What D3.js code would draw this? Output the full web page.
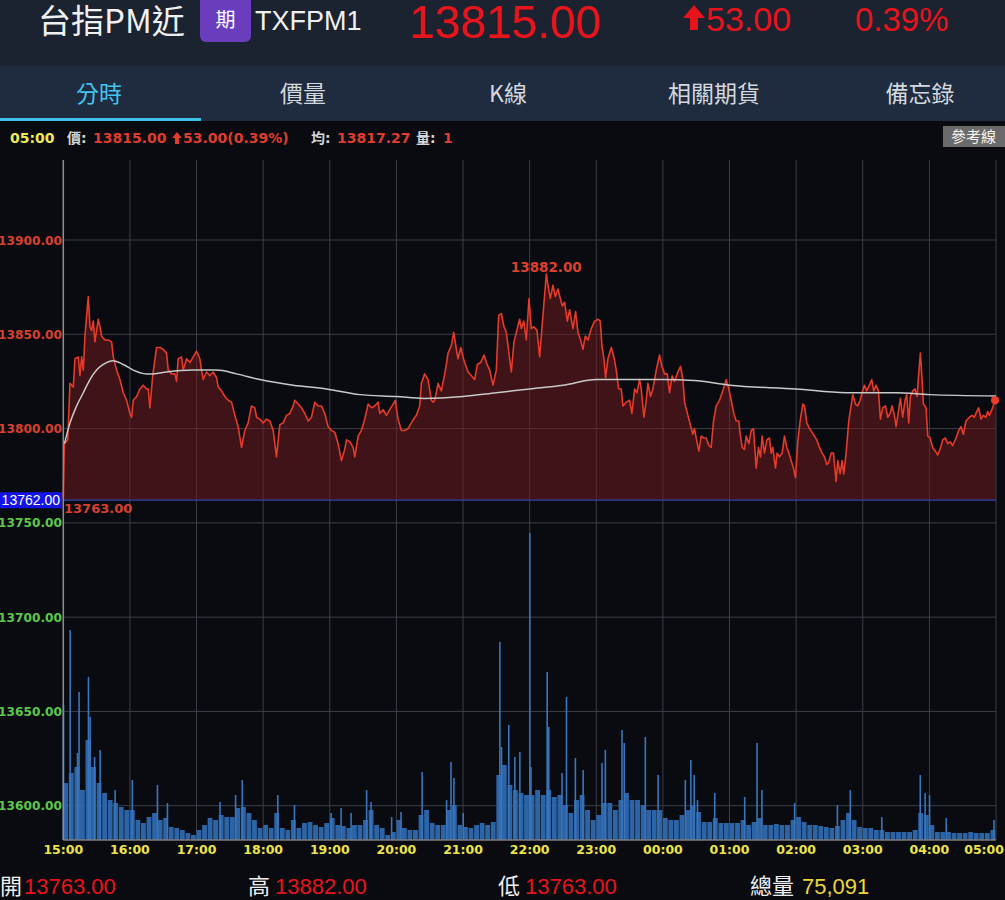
<!DOCTYPE html>
<html><head><meta charset="utf-8">
<script src="https://cdn.jsdelivr.net/npm/d3@7"></script>
<style>
html,body{margin:0;padding:0;background:#0a0b10;overflow:hidden;}
svg{display:block;}
</style></head><body>
<svg id="c" width="1005" height="900"></svg>
<script>
// ---------- data ----------
const hourLabels = ["15:00","16:00","17:00","18:00","19:00","20:00","21:00","22:00","23:00","00:00","01:00","02:00","03:00","04:00","05:00"];
const priceTicks = [13600,13650,13700,13750,13800,13850,13900];
const refPrice = 13762;
const openPrice = 13763, highPrice = 13882, lowPrice = 13763, lastPrice = 13815, avgPrice = 13817.27;
const tabs = ["分時","價量","K線","相關期貨","備忘錄"];

// [minutes after 15:00, price]
const pricePoints = [
[0,13763],[1,13792],[4,13794],[6,13824],[9,13822],[10.5,13837],[13.5,13838],[15,13828],[16.5,13838],[18,13831],
[19.5,13849],[22.5,13870],[24,13854],[25.5,13852],[27,13857],[28.5,13846],[31.5,13858],[33,13854],[34.5,13849],[37.5,13847],
[40.5,13847],[43.5,13846],[45,13838],[48,13831],[51,13826],[54,13819],[57,13815],[60,13808],[61.5,13806],[63,13815],
[66,13817],[69,13821],[72,13823],[75,13821],[76.5,13821],[78,13811],[80.5,13828],[84,13843],[87,13843],[90,13842],
[93,13840],[94.5,13831],[97.5,13829],[100.5,13829],[102,13825],[103.5,13837],[106.5,13838],[108,13831],[111,13837],[114,13835],
[117,13838],[120,13841],[123,13837],[124.5,13831],[126,13826],[129,13830],[132,13828],[135,13830],[138,13827],[139.5,13822],
[142.5,13820],[145.5,13817],[148.5,13815],[151.5,13814],[154.5,13807],[157.5,13801],[160.5,13790],[163.5,13799],[166.5,13803],[169.5,13812],
[172.5,13811],[174,13806],[177,13805],[180,13803],[183,13805],[186,13804],[189,13799],[192,13785],[195,13802],[198,13803],
[201,13807],[204,13808],[207,13812],[208.5,13815],[211.5,13813],[214.5,13811],[217.5,13808],[220.5,13804],[223.5,13806],[226.5,13814],
[229.5,13812],[232.5,13812],[235.5,13808],[238.5,13801],[241.5,13799],[244.5,13798],[247.5,13792],[250.5,13783],[253.5,13789],[255,13794],
[258,13793],[261,13790],[262.5,13785],[265.5,13796],[268.5,13799],[271.5,13805],[274.5,13813],[277.5,13811],
[280.5,13812],[283.5,13814],[285,13808],[288,13810],[291,13807],[294,13810],[297,13813],[299,13815],[301.5,13805],[304.5,13799],
[307.5,13799],[310.5,13800],[313.5,13803],[316.5,13806],[318,13807],[321,13812],[322.5,13824],[325.5,13829],[328.5,13826],[331.5,13815],
[333,13814],[334.5,13815],[337.5,13824],[340.5,13820],[343.5,13829],[345,13834],[346.5,13840],[349.5,13844],[351.6,13851],[354,13842],
[355.5,13837],[357.9,13843],[360,13838],[361.5,13835],[364.5,13830],[367.5,13828],[370.5,13826],[372.9,13834],[375.9,13835],[378.9,13839],
[381,13835],[384,13831],[387,13823],[390,13831],[392.1,13860],[394.5,13861],[396.9,13854],[399,13851],[400.5,13844],[403.5,13830],
[405.9,13846],[408,13851],[411,13858],[412.5,13853],[414.6,13857],[417,13847],[419.4,13869],[421.5,13853],[423.9,13854],[426.6,13852],
[429,13838],[430.5,13849],[432,13860],[435,13882],[436.5,13876],[438.6,13869],[441,13876],[443.1,13870],[445.5,13874],[447.6,13869],
[449.4,13865],[451.5,13867],[453.9,13857],[456,13863],[459,13853],[461.4,13862],[463.5,13851],[465.9,13847],[468,13842],[470.1,13849],
[472.5,13847],[475.5,13853],[478.5,13857],[481.5,13858],[483.6,13857],[485.1,13844],[486.9,13837],[488.4,13827],[490.5,13837],[493.5,13843],
[495.9,13838],[498,13831],[500.1,13821],[502.5,13821],[504,13812],[507,13814],[510,13815],[512.1,13808],[514.5,13821],[516.6,13819],
[519,13826],[520.5,13821],[522.9,13806],[525,13815],[526.5,13824],[528.9,13817],[531,13821],[534,13831],[537,13839],[539.1,13833],
[541.5,13829],[543.9,13829],[546,13819],[548.4,13828],[550.5,13825],[553.5,13830],[555.9,13833],[558,13826],[559.5,13814],[562.5,13807],
[567,13797],[568.5,13800],[570,13795],[572.4,13788],[574.5,13796],[576.6,13795],[579,13795],[581.4,13791],[583.5,13790],[585.6,13804],
[588,13812],[591,13815],[594,13820],[597,13826],[599.4,13821],[601.5,13815],[603.9,13808],[606,13804],[608.4,13804],[609.6,13797],
[611.4,13790],[613.5,13789],[615,13796],[617.4,13792],[619.5,13799],[621.6,13800],[624,13779],[626.1,13790],[627.9,13785],[629.4,13796],
[631.5,13787],[633.6,13794],[636,13795],[637.5,13787],[639,13790],[641.4,13779],[642.9,13787],[645,13785],[647.4,13787],[649.5,13796],
[651.6,13790],[653.4,13787],[655.5,13783],[657.6,13779],[659.4,13774],[661.5,13793],[663.6,13804],[666,13813],[667.5,13812],[669.6,13803],
[672,13800],[674.4,13798],[676.5,13796],[678.6,13794],[681,13790],[683.4,13787],[685.5,13785],[687.6,13781],[689.4,13782],[691.5,13787],
[693.6,13787],[696,13772],[697.5,13783],[699.6,13776],[701.4,13783],[702.9,13776],[705,13787],[707.4,13804],[709.5,13812],[711,13818],
[713.4,13813],[715.5,13812],[717.6,13815],[719.4,13819],[721.5,13823],[723.6,13820],[726,13823],[728.1,13826],[729.9,13820],[732,13823],
[734.1,13820],[735.9,13805],[738,13811],[740.4,13812],[742.5,13806],[744.6,13808],[746.4,13812],[748.5,13807],[750,13801],[752.4,13810],
[753.9,13816],[756,13806],[758.1,13815],[759.6,13818],[761.4,13803],[762.9,13817],[765,13820],[767.1,13821],[768.9,13817],[770.4,13829],
[771.9,13840],[773.1,13829],[774.6,13813],[777,13811],[778.5,13796],[780.6,13795],[783,13790],[785.4,13788],[787.5,13786],[789.6,13789],
[792,13794],[794.4,13795],[796.5,13792],[798.6,13793],[801,13791],[804,13795],[806.4,13799],[808.5,13801],[810.6,13797],[813,13804],
[816,13806],[818.4,13807],[820.5,13806],[822.6,13809],[824.4,13811],[826.5,13805],[828.6,13807],[831,13806],[832.5,13809],[834,13807],
[835.5,13809],[837,13811],[838.5,13814],[840,13815]
];

// [minutes after 15:00, average price]
const avgPoints = [
[1,13792],[6,13803],[12,13812],[18,13819],[24,13826],[30,13831],[36,13834],[45,13836],[54,13834],[63,13831],
[75,13829],[81,13829],[93,13830],[117,13831],[138,13831],[156,13829],[177,13826],[207,13823],[237,13821],[267,13818],
[300,13817],[325,13816],[360,13817],[390,13819],[420,13821],[450,13823],[480,13826],[510,13826],[540,13826],[568,13825.5],
[600,13823],[660,13821],[705,13819],[750,13819],[780,13818],[840,13817.3]
];

// typical per-minute volume in each 5-minute block (starting 15:00)
const volumeBlocks = [
228,268,292,200,400,292,228,188,160,148,132,120,120,80,68,92,108,80,88,52,48,40,28,20,40,60,88,80,100,92,92,128,132,108,80,48,60,48,108,48,40,80,48,68,72,60,52,68,88,
60,56,48,60,60,80,120,60,48,20,32,80,48,40,40,100,120,68,60,60,120,140,60,52,48,60,68,60,72,260,300,220,200,188,180,180,200,180,200,172,180,140,108,160,180,120,80,100,148,148,120,160,188,160,160,140,120,120,120,88,80,80,100,120,140,112,72,72,88,68,68,68,68,80,60,72,88,60,60,64,60,60,80,92,72,60,60,56,52,48,56,80,108,80,52,48,48,40,40,32,32,32,32,32,40,108,100,60,32,32,32,28,28,28,32,28,28,28,40
];
// single-minute volume spikes [minute, volume]
const volumeSpikes = [
[0,540],[6,840],[12.6,348],[14,592],[22.5,652],[24,492],[28,332],[33,360],[46.5,200],[62,240],[84.6,220],[93.6,148],[141,152],[155,180],[161,240],
[193,180],[208,140],[241,108],[250,128],[259,108],[273,200],[277,152],[295.5,92],[304,112],[323,272],[345,160],[349,312],[351.6,248],[360,108],
[393,792],[394.5,372],[401,460],[406.5,332],[411,352],[420,1228],[421,292],[435.6,672],[437,452],[449,268],[453,572],[461,328],[468,280],
[485,308],[488,360],[503,440],[505,388],[524,412],[535.5,260],[560,240],[565,320],[568,260],[571,160],[586.5,188],[613.5,172],[624.6,388],
[629,200],[658.5,148],[697,140],[708.6,200],[737,92],[771.6,260],[776,188],[780,180],[795,88],[838,80]
];

// ---------- drawing ----------
const svg = d3.select("#c");
const W = 1005, H = 900;
const plotL = 63.3, plotR = 996, plotT = 160, plotB = 840;
const cjk = "'Noto Sans CJK TC','Noto Sans CJK SC',sans-serif";
const lat = "'Liberation Sans',Arial,sans-serif";
const dv = "'DejaVu Sans','Noto Sans CJK TC',sans-serif";
const RED = "#e8141c", LRED = "#df3d2d";

const x = d3.scaleLinear().domain([0, 840]).range([plotL, plotR]);
const y = d3.scaleLinear().domain([13600, 13900]).range([805.7, 240]);
const yVol = d3.scaleLinear().domain([0, 1360]).range([plotB, plotB - 340]);

svg.append("rect").attr("width", W).attr("height", H).attr("fill", "#0a0b10");
// header
svg.append("rect").attr("width", W).attr("height", 66).attr("fill", "#1b2230");
svg.append("rect").attr("y", 66).attr("width", W).attr("height", 55).attr("fill", "#1f2c40");
svg.append("text").attr("x", 38).attr("y", 33).attr("font-family", cjk).attr("font-size", 33).attr("fill", "#f0f0f0").text("台指PM近");
svg.append("rect").attr("x", 200).attr("y", -8).attr("width", 51).attr("height", 50).attr("rx", 6).attr("fill", "#6a3dbf");
svg.append("text").attr("x", 225.5).attr("y", 27).attr("text-anchor", "middle").attr("font-family", cjk).attr("font-size", 20).attr("fill", "#fff").text("期");
svg.append("text").attr("x", 255).attr("y", 30).attr("font-family", lat).attr("font-size", 27).attr("fill", "#f0f0f0").text("TXFPM1");
svg.append("text").attr("x", 409).attr("y", 38).attr("font-family", lat).attr("font-size", 46).attr("fill", RED).text(d3.format(".2f")(lastPrice));
svg.append("path").attr("d", "M683,18 L694,5 L705,18 L698,18 L698,30 L690,30 L690,18 Z").attr("fill", RED);
svg.append("text").attr("x", 706).attr("y", 31).attr("font-family", lat).attr("font-size", 34).attr("fill", RED).text("53.00");
svg.append("text").attr("x", 855).attr("y", 31).attr("font-family", lat).attr("font-size", 33).attr("fill", RED).text("0.39%");

// tabs
const tabX = [99, 303, 508, 714, 920];
svg.selectAll("text.tab").data(tabs).join("text").attr("class", "tab")
  .attr("x", (d, i) => tabX[i]).attr("y", 102).attr("text-anchor", "middle")
  .attr("font-family", cjk).attr("font-size", 23)
  .attr("fill", (d, i) => i === 0 ? "#45c3ee" : "#d4d8de").text(d => d);
svg.append("rect").attr("x", 0).attr("y", 118).attr("width", 201).attr("height", 3).attr("fill", "#3ec0e8");

// info line
const info = svg.append("text").attr("y", 143).attr("font-family", dv).attr("font-weight", "bold").attr("font-size", 14);
info.append("tspan").attr("x", 10).attr("fill", "#ecea55").text("05:00");
info.append("tspan").attr("x", 67).attr("fill", "#d6d6d6").text("價:");
info.append("tspan").attr("x", 93).attr("fill", LRED).text("13815.00");
info.append("tspan").attr("x", 183).attr("fill", LRED).text("53.00(0.39%)");
info.append("tspan").attr("x", 311).attr("fill", "#d6d6d6").text("均:");
info.append("tspan").attr("x", 337).attr("fill", LRED).text(d3.format(".2f")(avgPrice));
info.append("tspan").attr("x", 416).attr("fill", "#d6d6d6").text("量:");
info.append("tspan").attr("x", 443).attr("fill", LRED).text("1");
svg.append("path").attr("d", "M172,138 L177,132 L182,138 L179,138 L179,144 L175,144 L175,138 Z").attr("fill", LRED);
svg.append("rect").attr("x", 943).attr("y", 126).attr("width", 70).attr("height", 21).attr("fill", "#6a6a6a");
svg.append("text").attr("x", 951).attr("y", 142).attr("font-family", cjk).attr("font-size", 15).attr("fill", "#f4f4f4").text("參考線");

// grid
const hours = hourLabels.map((d, i) => i * 60);
svg.append("g").selectAll("line").data(hours).join("line")
  .attr("x1", d => x(d)).attr("x2", d => x(d)).attr("y1", plotT).attr("y2", plotB)
  .attr("stroke", "#3b3e47").attr("stroke-width", 1);
svg.append("g").selectAll("line").data(priceTicks).join("line")
  .attr("x1", plotL).attr("x2", plotR).attr("y1", d => y(d)).attr("y2", d => y(d))
  .attr("stroke", "#3b3e47").attr("stroke-width", 1);

// volume
svg.append("g").selectAll("rect").data(volumeBlocks).join("rect")
  .attr("x", (d, i) => x(i * 5)).attr("width", (d, i) => x(i * 5 + 5) - x(i * 5) - 0.7)
  .attr("y", d => yVol(d)).attr("height", d => plotB - yVol(d))
  .attr("fill", "#2d64a6");
svg.append("g").selectAll("rect").data(volumeSpikes).join("rect")
  .attr("x", d => x(d[0]) - 0.6).attr("width", 1.6)
  .attr("y", d => yVol(d[1])).attr("height", d => plotB - yVol(d[1]))
  .attr("fill", "#3875bc");

// price area
const area = d3.area().x(d => x(d[0])).y0(y(refPrice)).y1(d => y(d[1]));
svg.append("path").datum(pricePoints).attr("d", area).attr("fill", "rgba(115,28,30,0.5)");
svg.append("line").attr("x1", plotL).attr("x2", plotR).attr("y1", y(refPrice)).attr("y2", y(refPrice))
  .attr("stroke", "#3346b4").attr("stroke-width", 1.2);
const line = d3.line().x(d => x(d[0])).y(d => y(d[1]));
svg.append("path").datum(pricePoints).attr("d", line).attr("fill", "none")
  .attr("stroke", "#e63a2a").attr("stroke-width", 1.6).attr("stroke-linejoin", "round");
const avgLine = d3.line().x(d => x(d[0])).y(d => y(d[1])).curve(d3.curveMonotoneX);
svg.append("path").datum(avgPoints).attr("d", avgLine).attr("fill", "none")
  .attr("stroke", "#c9c9c9").attr("stroke-width", 1.5);
const last = pricePoints[pricePoints.length - 1];
svg.append("circle").attr("cx", x(last[0]) - 1).attr("cy", y(last[1])).attr("r", 4).attr("fill", "#ee3b2c");

// axes lines
svg.append("line").attr("x1", plotL).attr("x2", plotL).attr("y1", plotT).attr("y2", plotB).attr("stroke", "#8d8d8d").attr("stroke-width", 1.5);
svg.append("line").attr("x1", plotL).attr("x2", plotR).attr("y1", plotB).attr("y2", plotB).attr("stroke", "#7d7d7d").attr("stroke-width", 1.5);

// y labels
svg.append("g").selectAll("text").data(priceTicks).join("text")
  .attr("x", 62).attr("y", d => y(d) + 4.5).attr("text-anchor", "end")
  .attr("font-family", dv).attr("font-weight", "bold").attr("font-size", 12.2)
  .attr("fill", d => d > refPrice ? "#d9402f" : "#5cc84a").text(d => d3.format(".2f")(d));
svg.append("rect").attr("x", 0).attr("y", y(refPrice) - 8).attr("width", 62).attr("height", 16).attr("fill", "#1414e8");
svg.append("text").attr("x", 60).attr("y", y(refPrice) + 5).attr("text-anchor", "end")
  .attr("font-family", lat).attr("font-size", 14).attr("fill", "#fff").text(d3.format(".2f")(refPrice));
svg.append("text").attr("x", 64).attr("y", y(refPrice) + 13).attr("font-family", dv).attr("font-weight", "bold")
  .attr("font-size", 13).attr("fill", "#d9402f").text(d3.format(".2f")(lowPrice));
const hi = pricePoints.reduce((a, b) => b[1] > a[1] ? b : a);
svg.append("text").attr("x", x(hi[0])).attr("y", y(hi[1]) - 2).attr("text-anchor", "middle")
  .attr("font-family", dv).attr("font-weight", "bold").attr("font-size", 13.5).attr("fill", "#d9402f").text(d3.format(".2f")(hi[1]));

// x labels
svg.append("g").selectAll("text").data(hourLabels).join("text")
  .attr("x", (d, i) => i === hourLabels.length - 1 ? 1004 : x(i * 60)).attr("y", 854)
  .attr("text-anchor", (d, i) => i === hourLabels.length - 1 ? "end" : "middle")
  .attr("font-family", dv).attr("font-weight", "bold").attr("font-size", 12.5)
  .attr("fill", "#ede54a").text(d => d);

// footer
const foot = [["開", 0, openPrice, 24], ["高", 248, highPrice, 275], ["低", 498, lowPrice, 525]];
foot.forEach(f => {
  svg.append("text").attr("x", f[1]).attr("y", 894).attr("font-family", cjk).attr("font-size", 22).attr("fill", "#f0f0f0").text(f[0]);
  svg.append("text").attr("x", f[3]).attr("y", 894).attr("font-family", lat).attr("font-size", 22).attr("fill", RED).text(d3.format(".2f")(f[2]));
});
svg.append("text").attr("x", 750).attr("y", 894).attr("font-family", cjk).attr("font-size", 22).attr("fill", "#f0f0f0").text("總量");
svg.append("text").attr("x", 802).attr("y", 894).attr("font-family", lat).attr("font-size", 22).attr("fill", "#ecd73a").text(d3.format(",")(75091));
</script>
</body></html>
